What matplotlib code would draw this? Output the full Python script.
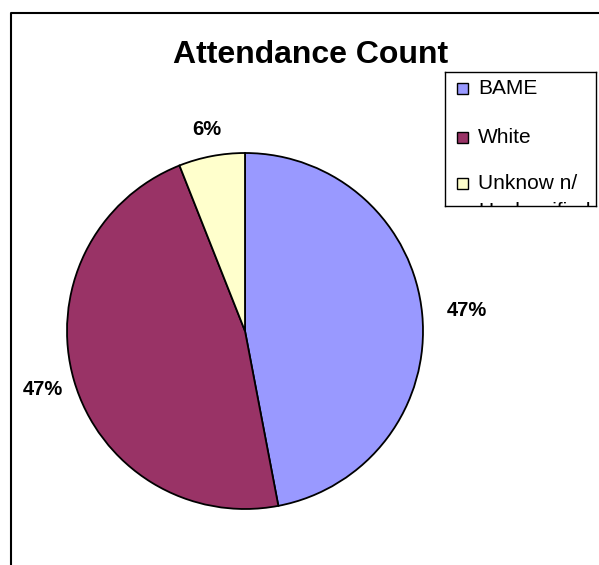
import numpy as np
import matplotlib
matplotlib.use("Agg")
import matplotlib.pyplot as plt
from matplotlib.patches import Rectangle
from matplotlib.lines import Line2D

plt.rcParams["font.family"] = ["Liberation Sans", "DejaVu Sans"]

# Attendance share by group
categories = ["BAME", "White", "Unknow n/\nUnclassified"]
shares = [47, 47, 6]
pct_labels = ["47%", "47%", "6%"]
colors = ["#9999FF", "#993366", "#FFFFCC"]

W, H = 599, 565
DPI = 100
fig = plt.figure(figsize=(W / DPI, H / DPI), dpi=DPI)
fig.patch.set_facecolor("white")


def fx(px):
    return px / W


def fy(py):
    return 1 - py / H


# chart frame (left and top edges)
fig.add_artist(Line2D([fx(11), fx(11), fx(W)], [fy(H), fy(12.8), fy(12.8)],
                      color="black", lw=1.5, transform=fig.transFigure))

# pie area
cx, cy, r = 245, 331, 178
ax = fig.add_axes([fx(cx - r), fy(cy + r), (2 * r) / W, (2 * r) / H])
ax.pie(shares, colors=colors, startangle=90, counterclock=False, radius=1,
       wedgeprops=dict(edgecolor="black", linewidth=1.3))
ax.set_xlim(-1, 1)
ax.set_ylim(-1, 1)
ax.set_aspect("equal")
ax.axis("off")

# percentage labels outside each wedge
label_radius = [1.25, 1.18, 1.15]
total = float(sum(shares))
start = 90.0
for val, lab, rad in zip(shares, pct_labels, label_radius):
    sweep = 360.0 * val / total
    mid = np.deg2rad(start - sweep / 2)
    ax.text(rad * np.cos(mid), rad * np.sin(mid), lab, ha="center", va="center",
            fontsize=14.5, fontweight="bold", clip_on=False)
    start -= sweep

# title
fig.text(fx(310.5), fy(63), "Attendance Count", ha="center", va="baseline",
         fontsize=23, fontweight="bold")

# legend: its own axes in pixel units, so entries are clipped by the frame
lx0, ly0, lx1, ly1 = 445, 72, 596, 206
lax = fig.add_axes([fx(lx0), fy(ly1), fx(lx1) - fx(lx0), fy(ly0) - fy(ly1)])
lax.set_xlim(lx0, lx1)
lax.set_ylim(ly1, ly0)
lax.set_xticks([])
lax.set_yticks([])
for sp in lax.spines.values():
    sp.set_linewidth(1.0)
    sp.set_color("black")

row_base = [94, 143, 189]
line_step = 28
for cat, col, base in zip(categories, colors, row_base):
    lax.add_patch(Rectangle((457, base - 11), 11, 11, facecolor=col,
                            edgecolor="black", lw=1.0))
    for i, part in enumerate(cat.split("\n")):
        lax.text(478, base + i * line_step, part, ha="left", va="baseline",
                 fontsize=15, clip_on=True)

fig.savefig("out.png", dpi=DPI, facecolor="white")
